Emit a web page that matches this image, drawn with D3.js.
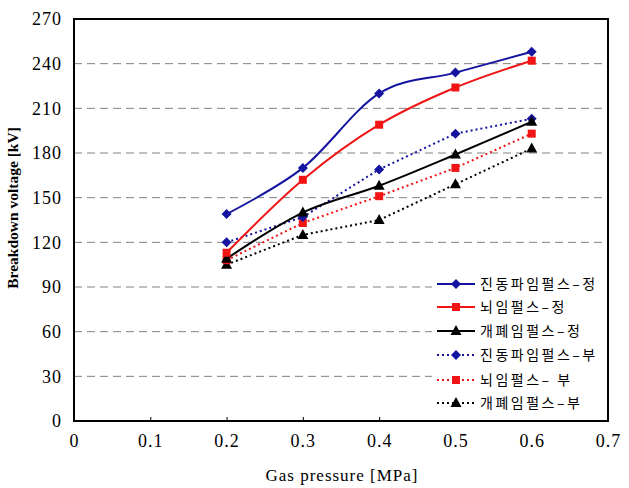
<!DOCTYPE html>
<html><head><meta charset="utf-8">
<script src="https://cdn.jsdelivr.net/npm/d3@7"></script>
<style>body{margin:0;background:#fff}</style>
</head><body><svg id="c" width="629" height="488"></svg>
<script>
const pressures = [0.2, 0.3, 0.4, 0.5, 0.6];
const oscPos = [139, 170, 220, 234, 248];
const lightPos = [113, 162, 199, 224, 242];
const switchPos = [109, 140, 158, 179, 201];
const oscNeg = [120, 137, 169, 193, 203];
const lightNeg = [108, 133, 151, 170, 193];
const switchNeg = [105, 125, 135, 159, 183];
const seriesNames = ["진동파임펄스–정","뇌임펄스–정","개폐임펄스–정","진동파임펄스–부","뇌임펄스– 부","개폐임펄스–부"];
const xTicks = [0,0.1,0.2,0.3,0.4,0.5,0.6,0.7];
const yTicks = [0,30,60,90,120,150,180,210,240,270];

const series = [
 {name:seriesNames[0], v:oscPos, color:"#1414A0", dash:null, marker:"diamond"},
 {name:seriesNames[1], v:lightPos, color:"#F01414", dash:null, marker:"square"},
 {name:seriesNames[2], v:switchPos, color:"#000000", dash:null, marker:"triangle"},
 {name:seriesNames[3], v:oscNeg, color:"#1414A0", dash:"2,3", marker:"diamond"},
 {name:seriesNames[4], v:lightNeg, color:"#F01414", dash:"2,3", marker:"square"},
 {name:seriesNames[5], v:switchNeg, color:"#000000", dash:"2,3", marker:"triangle"}
];

const L=74,R=608,T=19,B=421;
const svg=d3.select("#c");
const x=d3.scaleLinear().domain([0,0.7]).range([L,R]);
const y=d3.scaleLinear().domain([0,270]).range([B,T]);
const serif="'Liberation Serif','DejaVu Serif',serif";

// grid
svg.append("g").selectAll("line").data(yTicks.filter(d=>d>0&&d<270)).join("line")
 .attr("x1",L).attr("x2",R).attr("y1",d=>y(d)).attr("y2",d=>y(d))
 .attr("stroke","#808080").attr("stroke-width",1).attr("stroke-dasharray","8,5");

// axes
const xa=svg.append("g").attr("transform",`translate(0,${B})`)
 .call(d3.axisBottom(x).tickValues(xTicks).tickSize(-4).tickPadding(13).tickFormat(d=>d===0?"0":d3.format(".1f")(d)));
xa.select(".domain").remove();
xa.selectAll("line").attr("stroke","#000");
xa.selectAll("text").attr("font-family",serif).attr("font-size",18).attr("letter-spacing","1px").attr("fill","#000");

const ya=svg.append("g").attr("transform",`translate(${L},0)`)
 .call(d3.axisLeft(y).tickValues(yTicks).tickSize(0).tickPadding(12));
ya.select(".domain").remove();
ya.selectAll("text").attr("font-family",serif).attr("font-size",18).attr("letter-spacing","1px").attr("fill","#000");

// frame
svg.append("rect").attr("x",L).attr("y",T).attr("width",R-L).attr("height",B-T)
 .attr("fill","none").attr("stroke","#000").attr("stroke-width",2);

// lines
const line=(smooth)=>d3.line().x((d,i)=>x(pressures[i])).y(d=>y(d)).curve(smooth?d3.curveCatmullRom.alpha(0):d3.curveLinear);

function marker(g,type,cx,cy,color){
  if(type==="diamond"){
    g.append("path").attr("d",`M${cx},${cy-5}L${cx+5},${cy}L${cx},${cy+5}L${cx-5},${cy}Z`).attr("fill",color);
  }else if(type==="square"){
    g.append("rect").attr("x",cx-4).attr("y",cy-4).attr("width",8).attr("height",8).attr("fill",color);
  }else{
    g.append("path").attr("d",`M${cx},${cy-6}L${cx+5.5},${cy+4}L${cx-5.5},${cy+4}Z`).attr("fill",color);
  }
}

const order=[5,4,3,2,1,0];
order.forEach(k=>{
  const s=series[k];
  svg.append("path").datum(s.v).attr("d",line(!s.dash)).attr("fill","none")
   .attr("stroke",s.color).attr("stroke-width",2).attr("stroke-dasharray",s.dash);
  const g=svg.append("g");
  s.v.forEach((v,i)=>marker(g,s.marker,x(pressures[i]),y(v),s.color));
});

// legend
const lg=svg.append("g");
lg.append("rect").attr("x",432).attr("y",268).attr("width",175).attr("height",152).attr("fill","#fff");
const ly=[284,307,331,355,380,403];
series.forEach((s,i)=>{
  lg.append("line").attr("x1",437).attr("x2",475).attr("y1",ly[i]).attr("y2",ly[i])
   .attr("stroke",s.color).attr("stroke-width",2).attr("stroke-dasharray",s.dash);
  marker(lg,s.marker,456,ly[i],s.color);
  lg.append("text").attr("x",480).attr("y",ly[i]+5).text(s.name)
   .attr("font-family","'Noto Sans CJK KR',sans-serif").attr("font-size",14).attr("letter-spacing","2.5px").attr("fill","#000");
});

// axis titles
svg.append("text").attr("transform","translate(18,208) rotate(-90)").attr("text-anchor","middle")
 .attr("font-family",serif).attr("font-weight","bold").attr("font-size",15.5).text("Breakdown voltage [kV]");
svg.append("text").attr("x",342).attr("y",481).attr("text-anchor","middle")
 .attr("font-family",serif).attr("font-size",17).attr("letter-spacing","1px").text("Gas pressure [MPa]");
</script></body></html>
